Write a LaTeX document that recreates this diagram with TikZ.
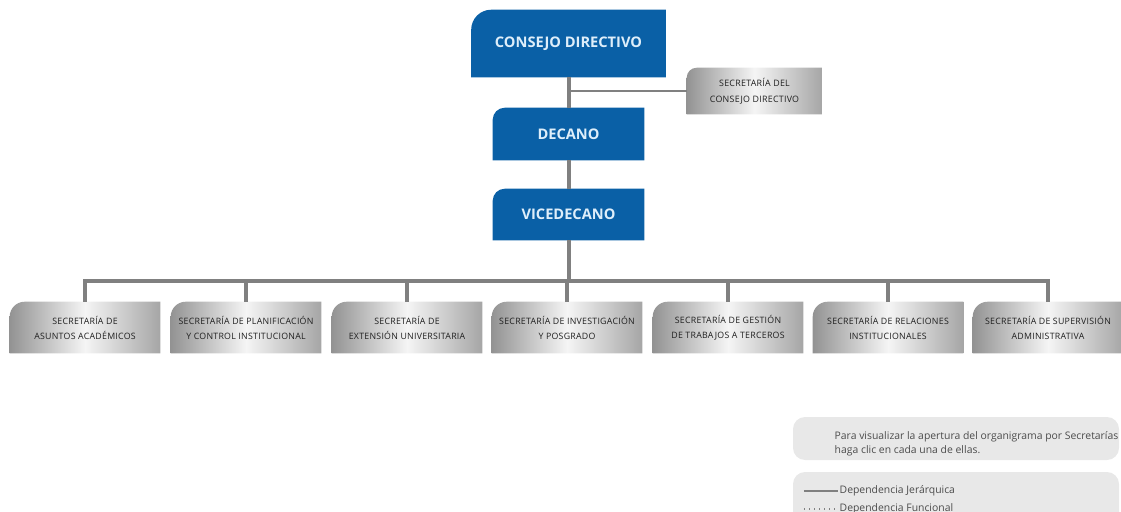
\documentclass[tikz,border=0pt]{standalone}
\usepackage{fontspec}
\setmainfont{Open Sans}
\newfontfamily\boxfont[LetterSpace=3]{Open Sans}
\usetikzlibrary{backgrounds}
\definecolor{orgblue}{RGB}{10,96,166}
\definecolor{orgtext}{RGB}{222,238,250}
\definecolor{linegray}{RGB}{128,128,128}
\definecolor{legbg}{RGB}{232,232,232}
\tikzset{
  bluebox/.style={text=orgtext, font=\fontsize{10.4}{12}\selectfont\bfseries, inner sep=0pt},
  secbox/.style={text=black!88, font=\boxfont\fontsize{6.25}{10.7}\selectfont, align=center,
    minimum width=3.75cm, minimum height=1.275cm, inner sep=0pt},
  hier/.style={draw=linegray, line width=0.1cm},
  side/.style={draw=linegray, line width=0.04cm},
  legtext/.style={text=black!70, font=\fontsize{7.4}{10}\selectfont, inner sep=1pt},
}

\begin{document}
\begin{tikzpicture}[x=0.025cm, y=-0.025cm]
\useasboundingbox (0,0) rectangle (1121,512);

% blue boxes
\node[bluebox, minimum width=4.85cm, minimum height=1.675cm] (cd) at (568.5,43.5) {CONSEJO DIRECTIVO};
\node[bluebox, minimum width=3.775cm, minimum height=1.3cm] (dec) at (568.5,134) {DECANO};
\node[bluebox, minimum width=3.775cm, minimum height=1.275cm] (vice) at (568.5,214.5) {VICEDECANO};
\node[secbox, minimum width=3.375cm, minimum height=1.15cm, font=\boxfont\fontsize{6.3}{11.5}\selectfont] (sdc) at (754.5,91) {SECRETARÍA DEL\\CONSEJO DIRECTIVO};

% secretarias
\foreach \i/\x/\txt in {1/85/{SECRETARÍA DE\\ASUNTOS ACADÉMICOS},
    2/246/{SECRETARÍA DE PLANIFICACIÓN\\Y CONTROL INSTITUCIONAL},
    3/407/{SECRETARÍA DE\\EXTENSIÓN UNIVERSITARIA},
    4/567/{SECRETARÍA DE INVESTIGACIÓN\\Y POSGRADO},
    5/728/{SECRETARÍA DE GESTIÓN\\DE TRABAJOS A TERCEROS},
    6/888/{SECRETARÍA DE RELACIONES\\INSTITUCIONALES},
    7/1048/{SECRETARÍA DE SUPERVISIÓN\\ADMINISTRATIVA}}
  \node[secbox] (s\i) at (\x,327.5) {\txt};

\coordinate (bus) at (568.5,281);
\coordinate (cdj) at (cd.south |- sdc.west);

% lines
\draw[hier] (cd.south) -- (dec.north);
\draw[hier] (dec.south) -- (vice.north);
\draw[hier] (vice.south) -- (bus);
\foreach \i in {1,...,7}
  \draw[hier] (s\i.north) |- (bus);
\draw[side] (cdj) -- (sdc.west);

% box shapes
\begin{scope}[on background layer]
\foreach \n/\r in {cd/0.5cm, dec/0.3cm, vice/0.3cm}
  \fill[orgblue] (\n.south west) -- ([yshift=-\r]\n.north west) arc[start angle=180, end angle=90, radius=\r]
    -- (\n.north east) -- (\n.south east) -- cycle;
\foreach \n/\r in {sdc/0.25cm, s1/0.375cm, s2/0.375cm, s3/0.375cm, s4/0.375cm, s5/0.375cm, s6/0.375cm, s7/0.375cm}
  \shade[left color=gray!85, right color=gray!70, middle color=gray!8] (\n.south west)
    -- ([yshift=-\r]\n.north west) arc[start angle=180, end angle=90, radius=\r]
    -- (\n.north east) -- (\n.south east) -- cycle;
\end{scope}

% legend
\fill[legbg, rounded corners=0.3cm] (793,417) rectangle (1119,460);
\fill[legbg, rounded corners=0.3cm] (793,472) rectangle (1119,530);
\node[legtext, anchor=west, align=left] (note) at (833,444) {Para visualizar la apertura del organigrama por Secretarías\\haga clic en cada una de ellas.};
\node[legtext, anchor=west] (lj) at (838,491) {Dependencia Jerárquica};
\node[legtext, anchor=west] (lf) at (838,509) {Dependencia Funcional};
\draw[linegray, line width=0.05cm] ([xshift=-0.85cm]lj.west) -- (lj.west);
\draw[linegray, line width=0.03cm, dash pattern=on 0.6pt off 3pt] ([xshift=-0.85cm]lf.west) -- (lf.west);
\end{tikzpicture}
\end{document}
